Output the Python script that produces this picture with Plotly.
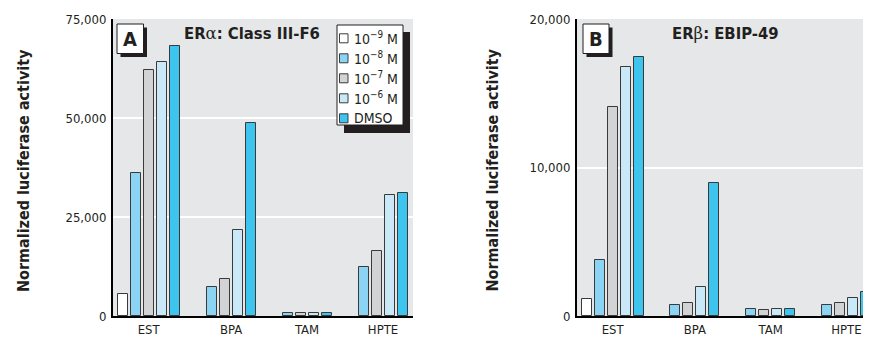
import plotly.graph_objects as go

# page body has an 8px margin; figure sized to fill the remaining view
OFF = 8
W, H = 871 - OFF, 337 - OFF

categories = ["EST", "BPA", "TAM", "HPTE"]
series_names = ["10<sup>\u22129</sup> M", "10<sup>\u22128</sup> M", "10<sup>\u22127</sup> M",
                "10<sup>\u22126</sup> M", "DMSO"]
colors = ["#ffffff", "#8bd4f4", "#d2d3d5", "#c9e9f9", "#3dc4ef"]

# Panel A: ERalpha Class III-F6
a_1e9 = [5500, None, None, None]
a_1e8 = [36000, 7400, 800, 12500]
a_1e7 = [62200, 9300, 800, 16300]
a_1e6 = [64100, 21600, 800, 30500]
a_dmso = [68300, 48800, 800, 31100]

# Panel B: ERbeta EBIP-49
b_1e9 = [1150, None, None, None]
b_1e8 = [3800, 720, 450, 760]
b_1e7 = [14050, 850, 380, 870]
b_1e6 = [16800, 1930, 450, 1210]
b_dmso = [17450, 8950, 490, 1590]

a_ticks = [0, 25000, 50000, 75000]
b_ticks = [0, 10000, 20000]

panel_a = [a_1e9, a_1e8, a_1e7, a_1e6, a_dmso]
panel_b = [b_1e9, b_1e8, b_1e7, b_1e6, b_dmso]

SLOT = 13 / 76
BARW = 10 / 76
FONT = "Liberation Sans Narrow, Arial Narrow, DejaVu Sans Condensed, Arial, sans-serif"
TXT = "#231f20"


def px(x):
    return (x - OFF) / W


def py(y):
    return (H - (y - OFF)) / H


fig = go.Figure()


def add_panel(data, xa, ya):
    present = {i: [] for i in range(len(categories))}
    for j, vals in enumerate(data):
        xs = []
        for i, v in enumerate(vals):
            x = i + (j - 2) * SLOT
            xs.append(x)
            if v is not None:
                present[i].append(x)
        fig.add_trace(go.Bar(
            x=xs, y=vals, width=BARW, name=series_names[j],
            marker=dict(color=colors[j], line=dict(color="#3a3a3a", width=1)),
            xaxis=xa, yaxis=ya, showlegend=False,
        ))
    return [sum(p) / len(p) for p in present.values()]


tick_a = add_panel(panel_a, "x", "y")
tick_b = add_panel(panel_b, "x2", "y2")

ydom = [py(316), py(19)]
xa_common = dict(showgrid=False, zeroline=False, showline=True, linecolor="#000000",
                 linewidth=2, ticks="", tickfont=dict(family=FONT, size=13, color=TXT),
                 fixedrange=True, automargin=False)
ya_common = dict(showgrid=True, gridcolor="#ffffff", gridwidth=1.5, zeroline=False,
                 showline=True, linecolor="#000000", linewidth=2, ticks="",
                 tickformat=",", tickfont=dict(family=FONT, size=13, color=TXT),
                 fixedrange=True, automargin=False, ticklabelstandoff=2)

fig.update_layout(
    width=W, height=H,
    margin=dict(l=0, r=0, t=0, b=0),
    paper_bgcolor="#ffffff",
    plot_bgcolor="#e6e7e8",
    barmode="overlay",
    bargap=0,
    xaxis=dict(domain=[px(113), px(413)], range=[-0.47, 3.48], anchor="y",
               tickvals=tick_a, ticktext=categories, **xa_common),
    yaxis=dict(domain=ydom, range=[0, 75000], anchor="x", tickvals=a_ticks,
               **ya_common),
    xaxis2=dict(domain=[px(577), 1.0], range=[-0.47, 3.41], anchor="y2",
                tickvals=tick_b, ticktext=categories, **xa_common),
    yaxis2=dict(domain=ydom, range=[0, 20000], anchor="x2", tickvals=b_ticks,
                **ya_common),
    showlegend=False,
)

shapes = []
annotations = []


def rect(x0, y0, x1, y1, fill, line=None):
    shapes.append(dict(type="rect", xref="paper", yref="paper",
                       x0=px(x0), x1=px(x1), y0=py(y1), y1=py(y0),
                       fillcolor=fill,
                       line=line if line else dict(width=0), layer="above"))


# legend (panel A)
rect(344, 32, 410, 133, "#231f20")
rect(337, 25, 403, 125, "#ffffff", dict(color="#231f20", width=1))
for j, name in enumerate(series_names):
    yc = 38.3 + 20 * j
    rect(339.5, yc - 4.5, 348, yc + 4.5, colors[j], dict(color="#3a3a3a", width=1))
    annotations.append(dict(text=name, xref="paper", yref="paper",
                            x=px(351.5), y=py(yc), showarrow=False,
                            xanchor="left", yanchor="middle",
                            font=dict(family=FONT, size=14, color=TXT)))

# panel letters
for letter, x0, x1 in [("A", 117, 143.5), ("B", 583, 609)]:
    rect(x0 + 3.5, 27.5, x1 + 3.5, 57, "#231f20")
    rect(x0, 24, x1, 53.5, "#ffffff", dict(color="#231f20", width=1))
    annotations.append(dict(text="<b>%s</b>" % letter, xref="paper", yref="paper",
                            x=px((x0 + x1) / 2), y=py(39), showarrow=False,
                            xanchor="center", yanchor="middle",
                            font=dict(family=FONT, size=20, color=TXT)))

GREEK = "font-family:'DejaVu Serif',serif;font-weight:normal"
annotations.append(dict(text="<b>ER<span style=\"%s\">\u03b1</span>: Class III-F6</b>" % GREEK,
                        xref="paper", yref="paper", x=px(252), y=py(33.5),
                        showarrow=False, xanchor="center", yanchor="middle",
                        font=dict(family=FONT, size=16.5, color=TXT)))
annotations.append(dict(text="<b>ER<span style=\"%s\">\u03b2</span>: EBIP-49</b>" % GREEK,
                        xref="paper", yref="paper", x=px(725), y=py(33.5),
                        showarrow=False, xanchor="center", yanchor="middle",
                        font=dict(family=FONT, size=16.5, color=TXT)))

for xc in (23.5, 492):
    annotations.append(dict(text="<b>Normalized luciferase activity</b>",
                            xref="paper", yref="paper", x=px(xc), y=py(170.5),
                            showarrow=False, textangle=-90, xanchor="center",
                            yanchor="middle",
                            font=dict(family=FONT, size=16, color=TXT)))

fig.update_layout(shapes=shapes, annotations=annotations)
fig.write_html("out.html")
